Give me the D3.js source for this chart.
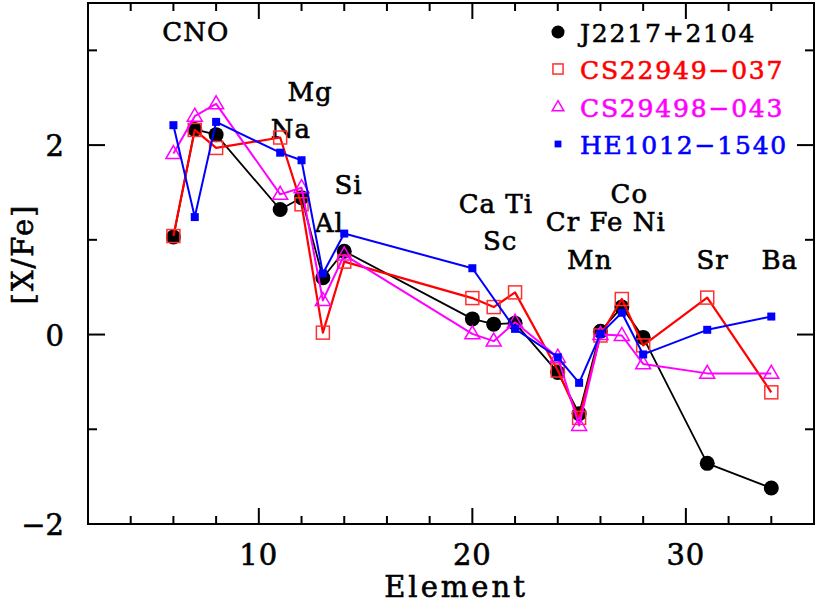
<!DOCTYPE html>
<html>
<head>
<meta charset="utf-8">
<script src="https://cdn.jsdelivr.net/npm/d3@7"></script>
<style>
  html, body { margin: 0; padding: 0; background: #fff; }
  svg text { font-family: "DejaVu Serif", serif; }
</style>
</head>
<body>
<svg id="chart" width="817" height="605"></svg>
<script>
// ---- data ----
const elements = ["C","N","O","Na","Mg","Al","Si","Ca","Sc","Ti","Cr","Mn","Fe","Co","Ni","Sr","Ba"];
const elementX = [6,7,8,11,12,13,14,20,21,22,24,25,26,27,28,31,34];

const seriesNames = ["J2217+2104","CS22949\u2212037","CS29498\u2212043","HE1012\u22121540"];
const j2217   = [1.03,2.165,2.11,1.32,1.445,0.60,0.88,0.165,0.11,0.12,-0.40,-0.835,0.035,0.29,-0.03,-1.36,-1.62];
const cs22949 = [1.04,2.16,1.97,2.08,1.375,0.02,0.77,0.385,0.29,0.445,-0.38,-0.88,-0.01,0.375,-0.115,0.39,-0.61];
const cs29498 = [1.91,2.305,2.435,1.48,1.55,0.36,0.84,0.007,-0.07,0.13,-0.24,-0.96,0.0,-0.01,-0.31,-0.41,-0.41];
const he1012  = [2.21,1.24,2.245,1.92,1.84,0.645,1.066,0.70,null,0.06,-0.24,-0.51,0.007,0.23,-0.21,0.05,0.19];

const xMajorTicks = [10,20,30];
const xMinorTicks = [4,6,8,12,14,16,18,22,24,26,28,32,34];
const yMajorTicks = [-2,0,2];
const yMinorTicks = [-1,1,3];

const labelTexts = ["CNO","Mg","Na","Si","Al","Ca Ti","Sc","Cr Fe Ni","Co","Mn","Sr","Ba"];
const labelX =     [7.05, 12.4, 11.5, 14.2, 13.3, 21.1, 21.3, 26.25, 27.35, 25.5, 31.25, 34.4];
const labelY =     [3.1, 2.47, 2.07, 1.48, 1.08, 1.28, 0.89, 1.09, 1.39, 0.69, 0.69, 0.69];

// ---- layout ----
const svg = d3.select("#chart");
const L = 88, R = 814, T = 3, B = 524;
const x = d3.scaleLinear().domain([2,36]).range([L,R]);
const y = d3.scaleLinear().domain([-2,3.5]).range([B,T]);

const colors = ["#000000","#ff0000","#ff00ff","#0000ff"];
const allSeries = [j2217, cs22949, cs29498, he1012];

// frame
svg.append("rect").attr("x",L).attr("y",T).attr("width",R-L).attr("height",B-T)
  .attr("fill","none").attr("stroke","#000").attr("stroke-width",2);

// ticks (inward, all four sides)
const tickG = svg.append("g").attr("stroke","#000").attr("stroke-width",2);
function xt(vals, len) {
  vals.forEach(v => {
    tickG.append("line").attr("x1",x(v)).attr("x2",x(v)).attr("y1",B).attr("y2",B-len);
    tickG.append("line").attr("x1",x(v)).attr("x2",x(v)).attr("y1",T).attr("y2",T+len);
  });
}
function yt(vals, len) {
  vals.forEach(v => {
    tickG.append("line").attr("y1",y(v)).attr("y2",y(v)).attr("x1",L).attr("x2",L+len);
    tickG.append("line").attr("y1",y(v)).attr("y2",y(v)).attr("x1",R).attr("x2",R-len);
  });
}
xt(xMajorTicks,16); xt(xMinorTicks,8);
yt(yMajorTicks,17); yt(yMinorTicks,9);

function heavy(sel, c) {
  return sel.attr("stroke", c || "#000").attr("stroke-width",0.6);
}

// tick labels
heavy(svg.append("g").selectAll("text").data(xMajorTicks).join("text")
  .attr("x",d=>x(d)).attr("y",565).attr("text-anchor","middle")
  .attr("font-size",29).attr("letter-spacing",1).text(d=>d));
heavy(svg.append("g").selectAll("text").data(yMajorTicks).join("text")
  .attr("x",64).attr("y",d=>y(d)+11).attr("text-anchor","end")
  .attr("font-size",29).text(d=>d<0 ? "\u2212"+Math.abs(d) : d));

// axis titles
heavy(svg.append("text").attr("x",456).attr("y",597).attr("text-anchor","middle")
  .attr("font-size",29).attr("letter-spacing",3).text("Element"));
heavy(svg.append("text").attr("transform","translate(33,254) rotate(-90)")
  .attr("text-anchor","middle").attr("font-size",29).attr("letter-spacing",2).text("[X/Fe]"));

// element labels
heavy(svg.append("g").selectAll("text").data(labelTexts).join("text")
  .attr("x",(d,i)=>x(labelX[i])).attr("y",(d,i)=>y(labelY[i]))
  .attr("text-anchor","middle").attr("font-size",26).attr("letter-spacing",1)
  .text(d=>d));

// lines
const line = d3.line().defined(d=>d[1]!==null).x(d=>x(d[0])).y(d=>y(d[1]));
const lineWidths = [1.8,2.2,2,2];

function symbol(g, k, cx, cy, s) {
  if (k===0) g.append("circle").attr("cx",cx).attr("cy",cy).attr("r",7.5*s).attr("fill","#000");
  else if (k===1) g.append("rect").attr("x",cx-6.5*s).attr("y",cy-6.5*s).attr("width",13*s).attr("height",13*s)
      .attr("fill","none").attr("stroke","#ff3030").attr("stroke-width",1.5);
  else if (k===2) {
    const h = 13*s, w = 15*s;
    g.append("path").attr("d",`M${cx},${cy-h*0.62}L${cx+w/2},${cy+h*0.38}L${cx-w/2},${cy+h*0.38}Z`)
      .attr("fill","none").attr("stroke","#ff00ff").attr("stroke-width",1.5);
  }
  else g.append("rect").attr("x",cx-4*s).attr("y",cy-4*s).attr("width",8*s).attr("height",8*s).attr("fill","#0000ff");
}

allSeries.forEach((vals,k)=>{
  const pts = elementX.map((e,i)=>[e, vals[i]]).filter(p=>p[1]!==null);
  const g = svg.append("g");
  g.append("path").datum(pts).attr("d",line).attr("fill","none")
    .attr("stroke",colors[k]).attr("stroke-width",lineWidths[k]).attr("stroke-linejoin","round");
  pts.forEach(p=>symbol(g,k,x(p[0]),y(p[1]),1));
});

// legend
const legY = [32,69,107,144];
seriesNames.forEach((n,k)=>{
  const g = svg.append("g");
  symbol(g,k,558,legY[k], k===0?0.87:(k===3?0.85:0.78));
  heavy(g.append("text").attr("x",580).attr("y",legY[k]+10).attr("font-size",25).attr("letter-spacing",1.8)
    .attr("fill",colors[k]).text(n), colors[k]);
});
</script>
</body>
</html>
